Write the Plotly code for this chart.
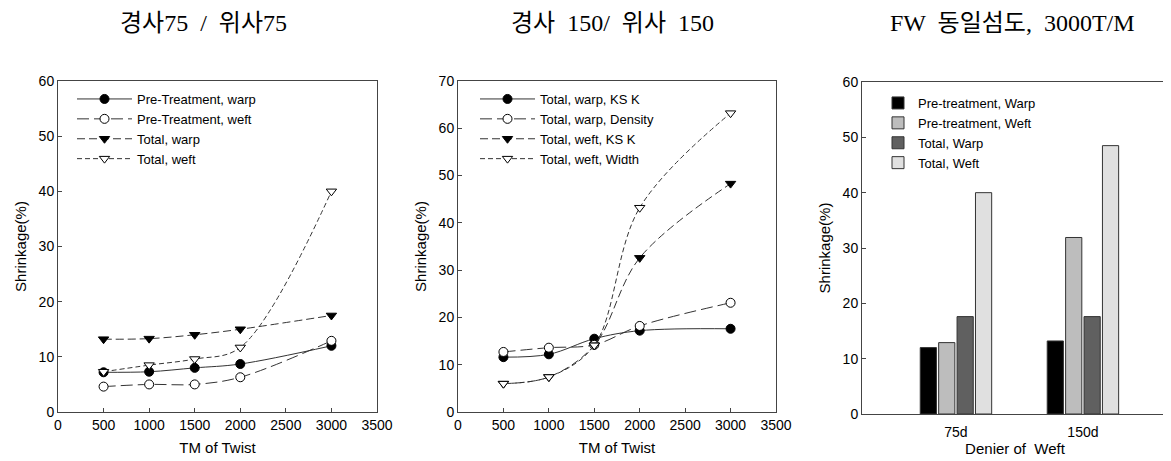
import plotly.graph_objects as go

# ---------------- data ----------------
tm = [500, 1000, 1500, 2000, 3000]

# panel 1 : 경사75 / 위사75
p1_pre_warp = [7.2, 7.3, 8.0, 8.7, 12.0]
p1_pre_weft = [4.6, 5.0, 5.0, 6.3, 12.9]
p1_tot_warp = [13.2, 13.3, 14.0, 15.0, 17.5]
p1_tot_weft = [7.3, 8.5, 9.6, 11.7, 40.0]
p1_names = ["Pre-Treatment, warp", "Pre-Treatment, weft", "Total, warp", "Total, weft"]

# panel 2 : 경사 150/ 위사 150
p2_warp_ksk = [11.6, 12.2, 15.5, 17.2, 17.6]
p2_warp_density = [12.7, 13.6, 14.2, 18.2, 23.1]
p2_weft_ksk = [6.0, 7.4, 14.1, 32.6, 48.3]
p2_weft_width = [6.0, 7.4, 14.1, 43.2, 63.2]
p2_names = ["Total, warp, KS K", "Total, warp, Density", "Total, weft, KS K", "Total, weft, Width"]

# panel 3 : FW 동일섬도, 3000T/M
deniers = ["75d", "150d"]
b_pre_warp = [12.0, 13.2]
b_pre_weft = [12.9, 31.9]
b_tot_warp = [17.6, 17.6]
b_tot_weft = [40.0, 48.5]
b_names = ["Pre-treatment, Warp", "Pre-treatment, Weft", "Total, Warp", "Total, Weft"]

titles = ["경사75  /  위사75", "경사  150/  위사  150", "FW  동일섬도,  3000T/M"]

# ---------------- styles ----------------
VW, VH = 1171, 461          # browser window
OFF = 8                      # default page body margin
W, H = VW - OFF, VH - OFF    # figure size so that it fits the window exactly
sans = "Liberation Sans, Arial, sans-serif"
serif = "Liberation Serif, Noto Sans CJK KR, serif"
line_col = "#333333"
dashes = ["solid", "12px,5px", "8px,4px", "5px,3px"]
symbols = ["circle", "circle", "triangle-down", "triangle-down"]
fills = ["black", "white", "black", "white"]


def fx(p):  # window pixel x -> paper fraction
    return (p - OFF) / W


def fy(p):  # window pixel y (from top) -> paper fraction
    return 1 - (p - OFF) / H


fig = go.Figure()


def add_lines(series, names, xa, ya, legend):
    for vals, name, dash, sym, fc in zip(series, names, dashes, symbols, fills):
        fig.add_trace(go.Scatter(
            x=tm, y=vals, name=name, mode="lines+markers",
            xaxis=xa, yaxis=ya, legend=legend,
            line=dict(color=line_col, width=1, dash=dash, shape="spline", smoothing=1),
            marker=dict(symbol=sym, size=9, color=fc, line=dict(color="black", width=1)),
        ))


add_lines([p1_pre_warp, p1_pre_weft, p1_tot_warp, p1_tot_weft], p1_names, "x", "y", "legend")
add_lines([p2_warp_ksk, p2_warp_density, p2_weft_ksk, p2_weft_width], p2_names, "x2", "y2", "legend2")

bar_cols = ["#000000", "#bdbdbd", "#606060", "#e0e0e0"]
for vals, name, col in zip([b_pre_warp, b_pre_weft, b_tot_warp, b_tot_weft], b_names, bar_cols):
    fig.add_trace(go.Bar(
        x=deniers, y=vals, name=name, xaxis="x3", yaxis="y3", legend="legend3",
        marker=dict(color=col, line=dict(color="#333333", width=1)),
    ))

axis_common = dict(showline=True, linecolor="#444444", linewidth=1, mirror=True,
                   ticks="inside", ticklen=4, tickcolor="#444444", showgrid=False,
                   zeroline=False, automargin=False,
                   tickfont=dict(family=sans, size=14, color="black"))
tfont = dict(family=sans, size=15, color="black")
lfont = dict(family=sans, size=13, color="black")

fig.update_layout(
    width=W, height=H,
    margin=dict(l=0, r=0, t=0, b=0),
    paper_bgcolor="white", plot_bgcolor="white",
    showlegend=True,
    barmode="group", bargap=0.42, bargroupgap=0.12,
    xaxis=dict(domain=[fx(58), fx(377)], range=[0, 3500], dtick=500, anchor="y",
               title=dict(text="TM of Twist", font=tfont, standoff=10),
               **axis_common),
    yaxis=dict(domain=[fy(412), fy(81)], range=[0, 60], dtick=10, anchor="x",
               title=dict(text="Shrinkage(%)", font=tfont, standoff=8),
               **axis_common),
    xaxis2=dict(domain=[fx(458), fx(776)], range=[0, 3500], dtick=500, anchor="y2",
                title=dict(text="TM of Twist", font=tfont, standoff=10),
                **axis_common),
    yaxis2=dict(domain=[fy(412), fy(81)], range=[0, 70], dtick=10, anchor="x2",
                title=dict(text="Shrinkage(%)", font=tfont, standoff=8),
                **axis_common),
    xaxis3=dict(domain=[fx(862), fx(1168)], range=[-0.74, 1.67], anchor="y3",
                ticklabelstandoff=5,
                title=dict(text="Denier of  Weft", font=tfont, standoff=3),
                **{**axis_common, "ticks": ""}),
    yaxis3=dict(domain=[fy(414), fy(82)], range=[0, 60], dtick=10, anchor="x3",
                title=dict(text="Shrinkage(%)", font=tfont, standoff=8),
                **axis_common),
    legend=dict(x=fx(72), y=fy(84), xanchor="left", yanchor="top", itemwidth=55,
                bgcolor="rgba(0,0,0,0)", font=lfont, tracegroupgap=0),
    legend2=dict(x=fx(475), y=fy(84), xanchor="left", yanchor="top", itemwidth=55,
                 bgcolor="rgba(0,0,0,0)", font=lfont, tracegroupgap=0),
    legend3=dict(x=fx(878), y=fy(88), xanchor="left", yanchor="top",
                 bgcolor="rgba(0,0,0,0)", font=lfont, tracegroupgap=0),
)

for text, cx in zip(titles, [204, 612, 1012]):
    fig.add_annotation(text=text, x=fx(cx), y=1.0, xref="paper", yref="paper",
                       xanchor="center", yanchor="top", showarrow=False,
                       font=dict(family=serif, size=24, color="black"))

fig.write_html("out.html")
